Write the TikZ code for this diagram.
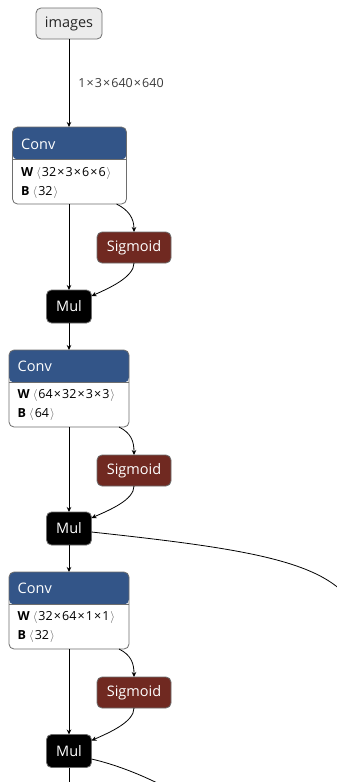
\documentclass[tikz,border=0pt]{standalone}
\usepackage{fontspec}
\setmainfont{Open Sans}
\usetikzlibrary{arrows.meta}

\definecolor{layerblue}{RGB}{51,85,136}
\definecolor{actred}{RGB}{112,41,33}
\definecolor{bordergray}{RGB}{110,110,110}
\definecolor{inputfill}{RGB}{236,236,236}
\definecolor{labelgray}{RGB}{60,60,60}
\definecolor{bracketgray}{RGB}{90,90,90}

% tensor shape in angle brackets, and a spaced multiplication sign
\newcommand{\tshape}[1]{\kern3pt{\color{bracketgray}$\langle$}\kern1pt#1\kern1pt{\color{bracketgray}$\rangle$}}
\newcommand{\by}{\kern1.1pt×\kern1.1pt}

\begin{document}
\begin{tikzpicture}[x=1pt,y=-1pt,
  titlefont/.style={font=\fontsize{14.5}{17}\selectfont},
  attrfont/.style={font=\fontsize{12.5}{15}\selectfont},
  box/.style={draw=bordergray, line width=0.8pt, rounded corners=5pt, inner sep=0pt, outer sep=0pt},
  inputbox/.style={box, fill=inputfill, minimum width=66pt, minimum height=31pt, titlefont, text=black!85},
  opbox/.style={box, titlefont, text=white},
  sigbox/.style={opbox, fill=actred, minimum width=74pt, minimum height=31pt},
  mulbox/.style={opbox, fill=black, minimum width=45pt, minimum height=33pt},
  convbox/.style={box, fill=white, minimum width=#1, minimum height=77pt,
    path picture={\fill[layerblue] ([yshift=2pt]path picture bounding box.north west)
      rectangle ([yshift=-32.5pt]path picture bounding box.north east);}},
  hdrtext/.style={titlefont, text=white, anchor=west, inner sep=0pt},
  attrtext/.style={attrfont, text=black, anchor=west, inner sep=0pt},
  lbl/.style={attrfont, text=labelgray, anchor=west, inner sep=0pt},
  link/.style={draw=black, line width=0.8pt, -{Stealth[length=5pt,width=4.5pt]}},
  plainlink/.style={draw=black, line width=0.8pt}
]
\useasboundingbox (0,0) rectangle (337,782);
\clip (0,0) rectangle (337,782);
\fill[white] (0,0) rectangle (337,782);

% input
\node[inputbox] (images) at (69,23.5) {images};

% block 1
\node[convbox=114pt] (conv1) at (69.5,165.5) {};
\draw[bordergray, line width=0.6pt] ([yshift=-32.5pt]conv1.north west) -- ([yshift=-32.5pt]conv1.north east);
\node[hdrtext] (conv1t) at (21,144) {Conv};
\node[attrtext] (conv1w) at (21,173) {{\bfseries W}\tshape{32\by3\by6\by6}};
\node[attrtext] (conv1b) at (21,192) {{\bfseries B}\tshape{32}};
\node[sigbox] (sig1) at (134,247.5) {Sigmoid};
\node[mulbox] (mul1) at (69,306.5) {Mul};

% block 2
\node[convbox=120pt] (conv2) at (69,388.5) {};
\draw[bordergray, line width=0.6pt] ([yshift=-32.5pt]conv2.north west) -- ([yshift=-32.5pt]conv2.north east);
\node[hdrtext] (conv2t) at (17.5,366) {Conv};
\node[attrtext] (conv2w) at (17.5,395) {{\bfseries W}\tshape{64\by32\by3\by3}};
\node[attrtext] (conv2b) at (17.5,414) {{\bfseries B}\tshape{64}};
\node[sigbox] (sig2) at (134,470.5) {Sigmoid};
\node[mulbox] (mul2) at (69,528.5) {Mul};

% block 3
\node[convbox=120pt] (conv3) at (69,610.5) {};
\draw[bordergray, line width=0.6pt] ([yshift=-32.5pt]conv3.north west) -- ([yshift=-32.5pt]conv3.north east);
\node[hdrtext] (conv3t) at (17.5,588) {Conv};
\node[attrtext] (conv3w) at (17.5,617) {{\bfseries W}\tshape{32\by64\by1\by1}};
\node[attrtext] (conv3b) at (17.5,636) {{\bfseries B}\tshape{32}};
\node[sigbox] (sig3) at (134,692.5) {Sigmoid};
\node[mulbox] (mul3) at (69,751) {Mul};

% free ends of the outgoing edges
\coordinate (out2) at (350,600);
\coordinate (out3) at (180,795);
\coordinate (down3) at (69,795);

% edges
\draw[link] (images.south) -- node[lbl, xshift=9pt, pos=0.5] {1\by3\by640\by640} (images.south |- conv1.north);

\foreach \c/\s/\m in {conv1/sig1/mul1, conv2/sig2/mul2, conv3/sig3/mul3}{
  \draw[link] (\c.south -| \m.north) -- (\m.north);
  \draw[link] ([xshift=-10pt]\c.south east) .. controls +(12,6) and +(0,-14) .. (\s.north);
  \draw[link] (\s.south) .. controls +(0,14) and +(18,-8) .. ([yshift=-6pt]\m.north east);
}
\draw[link] (mul1.south) -- (mul1.south |- conv2.north);
\draw[link] (mul2.south) -- (mul2.south |- conv3.north);

\draw[plainlink] ([yshift=-3.5pt]mul2.east) .. controls +(148,16) and +(-30,-40) .. (out2);
\draw[plainlink] ([yshift=-8pt]mul3.east) .. controls +(22,5) and +(-35,-20) .. (out3);
\draw[plainlink] (mul3.south) -- (down3);
\end{tikzpicture}
\end{document}
